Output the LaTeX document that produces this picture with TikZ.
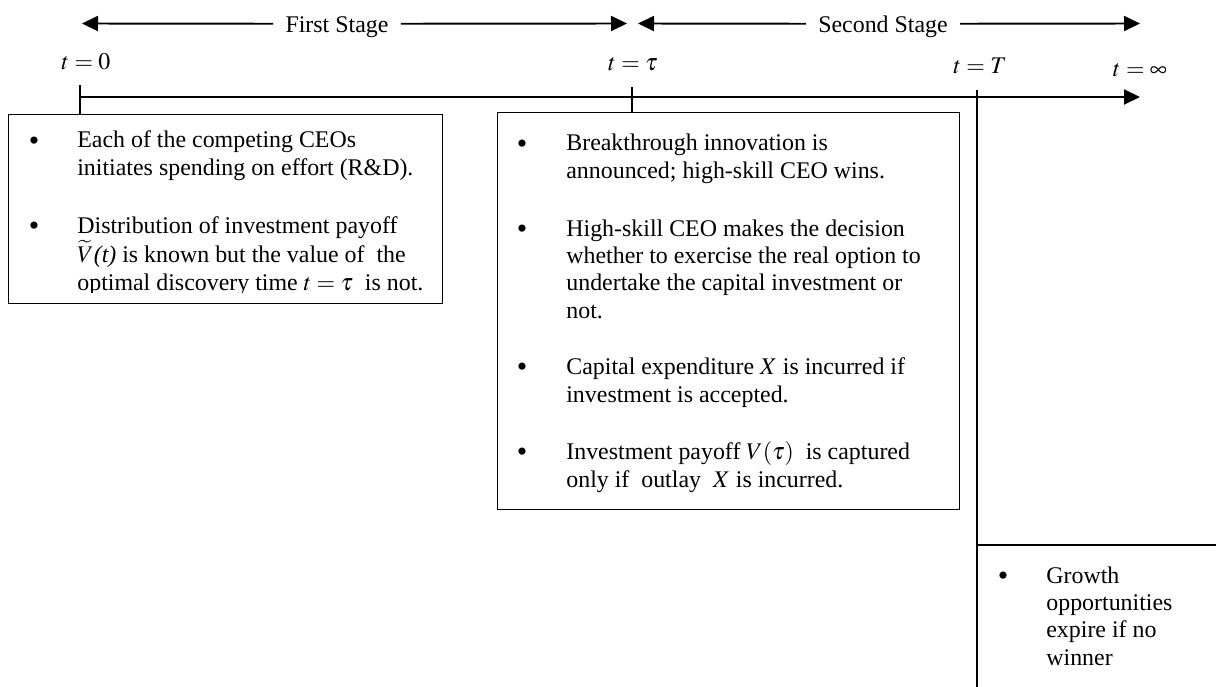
\documentclass[tikz,border=0pt]{standalone}
\usepackage{mathptmx}
\usepackage{fontspec}
\setmainfont{Liberation Serif}
\usetikzlibrary{arrows.meta}

\newcommand{\bodyfont}{\fontsize{13.6}{15.5}\selectfont}

\begin{document}
\begin{tikzpicture}[
    >={Triangle[length=3.2mm,width=3mm]},
    axis/.style={line width=1.1pt},
    box/.style={draw, line width=0.75pt, inner sep=0pt, anchor=north west},
    tick/.style={line width=0.85pt},
    txt/.style={anchor=base west, align=left, inner sep=0pt, font=\bodyfont},
    bul/.style={anchor=center, inner sep=0pt, yshift=-0.6mm, font=\fontsize{17}{17}\selectfont},
    lbl/.style={anchor=base, inner sep=0pt, font=\bodyfont},
    stage/.style={anchor=base, inner xsep=2.4mm, inner ysep=0pt, font=\bodyfont},
  ]
  \useasboundingbox (0,0) rectangle (24.32,-13.74);

  % the two stages
  \node[stage] (first) at (6.74,-0.64) {First Stage};
  \node[stage] (second) at (17.66,-0.64) {Second Stage};
  \coordinate (s1a) at (1.64,-0.47);
  \coordinate (s1b) at (12.54,-0.47);
  \coordinate (s2a) at (12.76,-0.47);
  \coordinate (s2b) at (22.8,-0.47);
  \draw[axis,->] ([yshift=4.7pt]first.base west) -- (s1a);
  \draw[axis,->] ([yshift=4.7pt]first.base east) -- (s1b);
  \draw[axis,->] ([yshift=4.7pt]second.base west) -- (s2a);
  \draw[axis,->] ([yshift=4.7pt]second.base east) -- (s2b);

  % time labels
  \node[lbl] (t0) at (1.72,-1.4) {$t = 0$};
  \node[lbl] (ttau) at (12.66,-1.42) {$t = \tau$};
  \node[lbl] (tT) at (19.6,-1.48) {$t = T$};
  \node[lbl] (tinf) at (22.8,-1.52) {$t = \infty$};

  % time line
  \coordinate (start) at (1.6,-1.94);
  \coordinate (end) at (22.8,-1.94);
  \draw[axis,->] (start) -- (end);

  % boxes
  \node[box, minimum width=8.68cm, minimum height=3.78cm] (box1) at (0.16,-2.28) {};
  \node[box, minimum width=9.24cm, minimum height=7.94cm] (box2) at (9.94,-2.24) {};

  % ticks down to the boxes
  \coordinate (tick0) at (1.6,-1.7);
  \coordinate (ticktau) at (12.64,-1.74);
  \coordinate (tickT) at (19.54,-1.8);
  \coordinate (bottom) at (19.54,-13.74);
  \coordinate (corner) at (19.54,-10.9);
  \coordinate (edge) at (24.32,-10.9);
  \draw[tick] (tick0) -- (tick0 |- box1.north);
  \draw[tick] (ticktau) -- (ticktau |- box2.north);
  \draw[line width=0.75pt] (tickT) -- (bottom);
  \draw[line width=0.75pt] (corner) -- (edge);

  % first stage text (base = last line)
  \begin{scope}
    \clip (0,-2.28) rectangle (9,-5.84);
    \node[bul] (b11) at (0.68,-2.82) {\textbullet};
    \node[txt] (i11) at (1.54,-3.5) {Each of the competing CEOs\\initiates spending on effort (R\&D).};
    \node[bul] (b12) at (0.68,-4.52) {\textbullet};
    \node[txt] (i12) at (1.54,-5.8) {Distribution of investment payoff\\$\widetilde{V}$\textit{(t)} is known but the value of~ the\\optimal discovery time $t =\tau$~ is not.};
  \end{scope}

  % second stage text
  \node[bul] (b21) at (10.44,-2.88) {\textbullet};
  \node[txt] (i21) at (11.32,-3.56) {Breakthrough innovation is\\announced; high-skill CEO wins.};
  \node[bul] (b22) at (10.44,-4.58) {\textbullet};
  \node[txt] (i22) at (11.32,-6.36) {High-skill CEO makes the decision\\whether to exercise the real option to\\undertake the capital investment or\\not.};
  \node[bul] (b23) at (10.44,-7.34) {\textbullet};
  \node[txt] (i23) at (11.32,-8.04) {Capital expenditure $X$ is incurred if\\investment is accepted.};
  \node[bul] (b24) at (10.44,-9.04) {\textbullet};
  \node[txt] (i24) at (11.32,-9.74) {Investment payoff $V(\tau)$~ is captured\\only if~ outlay~ $X$ is incurred.};

  % expiry
  \node[bul] (b31) at (20.06,-11.52) {\textbullet};
  \node[txt] (i31) at (20.92,-13.3) {Growth\\opportunities\\expire if no\\winner};
\end{tikzpicture}
\end{document}
